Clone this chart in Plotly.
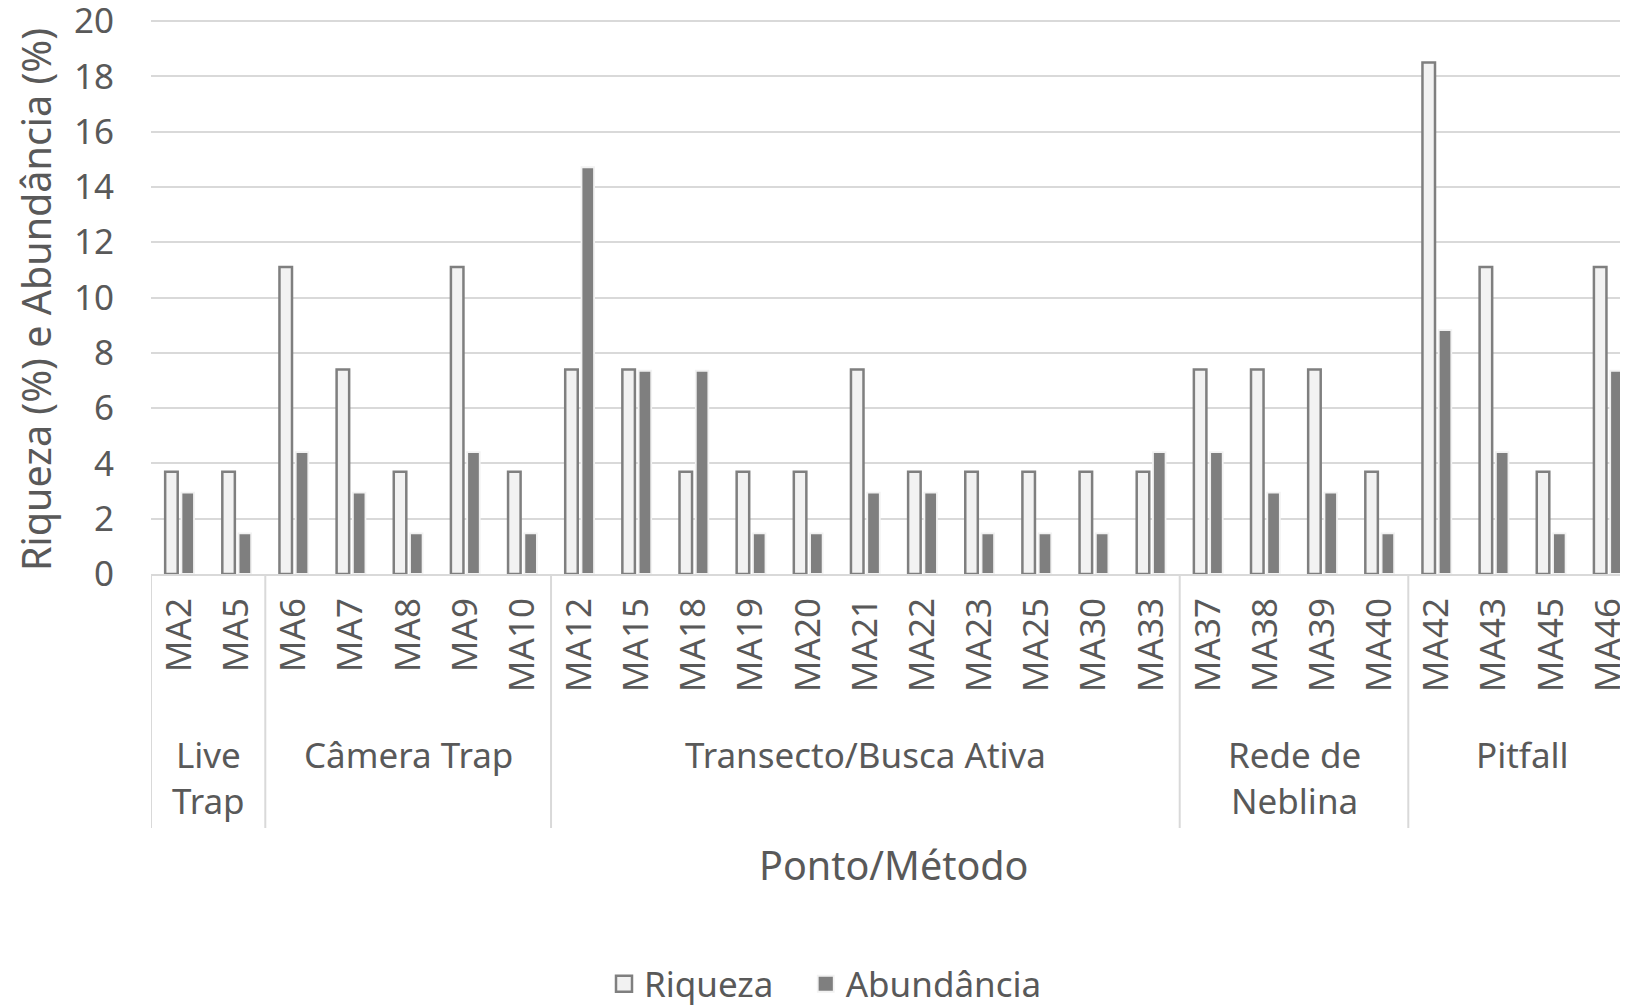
import plotly.graph_objects as go

categories = ["MA2", "MA5", "MA6", "MA7", "MA8", "MA9", "MA10", "MA12", "MA15", "MA18",
              "MA19", "MA20", "MA21", "MA22", "MA23", "MA25", "MA30", "MA33", "MA37",
              "MA38", "MA39", "MA40", "MA42", "MA43", "MA45", "MA46"]
groups = ["Live<br>Trap", "Câmera Trap", "Transecto/Busca Ativa", "Rede de<br>Neblina", "Pitfall"]
group_sizes = [2, 5, 11, 4, 4]
riqueza = [3.7, 3.7, 11.1, 7.4, 3.7, 11.1, 3.7, 7.4, 7.4, 3.7,
           3.7, 3.7, 7.4, 3.7, 3.7, 3.7, 3.7, 3.7, 7.4,
           7.4, 7.4, 3.7, 18.5, 11.1, 3.7, 11.1]
abundancia = [2.94, 1.47, 4.41, 2.94, 1.47, 4.41, 1.47, 14.71, 7.35, 7.35,
              1.47, 1.47, 2.94, 2.94, 1.47, 1.47, 1.47, 4.41, 4.41,
              2.94, 2.94, 1.47, 8.82, 4.41, 1.47, 7.35]
y_ticks = [0, 2, 4, 6, 8, 10, 12, 14, 16, 18, 20]

FONT = "Noto Sans"
TXT = "#595959"
GRID = "#D9D9D9"
R_FILL, R_LINE = "#F2F2F2", "#7F7F7F"
A_FILL, A_LINE = "#7F7F7F", "#F2F2F2"
NBSP = "\u00a0"

fig = go.Figure()
fig.add_trace(go.Bar(x=categories, y=riqueza, name="Riqueza", showlegend=False,
                     marker=dict(color=R_FILL, line=dict(color=R_LINE, width=2.5))))
fig.add_trace(go.Bar(x=categories, y=abundancia, name="Abundância", showlegend=False,
                     marker=dict(color=A_FILL, line=dict(color=A_LINE, width=1.8))))
# legend entries (square swatches)
fig.add_trace(go.Scatter(x=[None], y=[None], mode="markers", name="Riqueza" + NBSP * 3,
                         marker=dict(symbol="square", size=20, color=R_FILL,
                                     line=dict(color=R_LINE, width=2.5))))
fig.add_trace(go.Scatter(x=[None], y=[None], mode="markers", name="Abundância",
                         marker=dict(symbol="square", size=20, color=A_FILL,
                                     line=dict(color=A_LINE, width=1.8))))

PAGE_OFF = 8                # the page body margin offsets the figure
L_PAGE, ZERO_PAGE = 151, 574  # plot left edge and zero line on the page
L = L_PAGE - PAGE_OFF
T = 10
H_PLOT = 556
W = 1628 - L
Y0 = T + H_PLOT

def py(pix):
    # pixel offset below the x axis -> paper coordinate
    return -pix / H_PLOT

def px(page_x):
    return (page_x - L_PAGE) / W

shapes = []
annotations = []
start = 0
bounds = [-0.5]
for g, n in zip(groups, group_sizes):
    annotations.append(dict(text=g, x=start + (n - 1) / 2, xref="x", y=py(155), yref="paper",
                            xanchor="center", yanchor="top", showarrow=False,
                            font=dict(family=FONT, size=35, color=TXT)))
    start += n
    bounds.append(start - 0.5)
for b in bounds:
    shapes.append(dict(type="line", xref="x", yref="paper", x0=b, x1=b, y0=0, y1=py(254),
                       line=dict(color=GRID, width=2)))

annotations.append(dict(text="Ponto/Método", xref="paper", yref="paper", x=px(894),
                        y=py(865 - ZERO_PAGE), xanchor="center", yanchor="middle",
                        showarrow=False, font=dict(family=FONT, size=39.5, color=TXT)))
annotations.append(dict(text="Riqueza (%) e Abundância (%)", xref="paper", yref="paper",
                        x=px(36), y=(ZERO_PAGE - 300) / H_PLOT, xanchor="center",
                        yanchor="middle", textangle=-90, showarrow=False,
                        font=dict(family=FONT, size=39.5, color=TXT)))

fig.update_layout(
    width=1628, height=1005,
    margin=dict(l=L, r=0, t=T, b=1005 - Y0, autoexpand=False),
    paper_bgcolor="white", plot_bgcolor="white",
    font=dict(family=FONT, size=35, color=TXT),
    barmode="group", bargap=0.43, bargroupgap=0.23,
    shapes=shapes, annotations=annotations,
    legend=dict(orientation="h", x=px(604), xanchor="left",
                y=py(984 - ZERO_PAGE), yanchor="middle",
                font=dict(family=FONT, size=35, color=TXT)),
    xaxis=dict(type="category", range=[-0.5, W / 57.15 - 0.5], tickangle=-90,
               automargin=False, showgrid=False, showline=True, linecolor=GRID, linewidth=2,
               ticks="", ticklabelstandoff=8, tickfont=dict(size=35)),
    yaxis=dict(range=[0, 20 * H_PLOT / 553], tickvals=y_ticks, automargin=False,
               showgrid=True, gridcolor=GRID, gridwidth=2, ticklabeloverflow="allow",
               zeroline=False, showline=False, ticks="", ticklabelstandoff=36,
               tickfont=dict(size=35)),
)

fig.write_html("out.html")
